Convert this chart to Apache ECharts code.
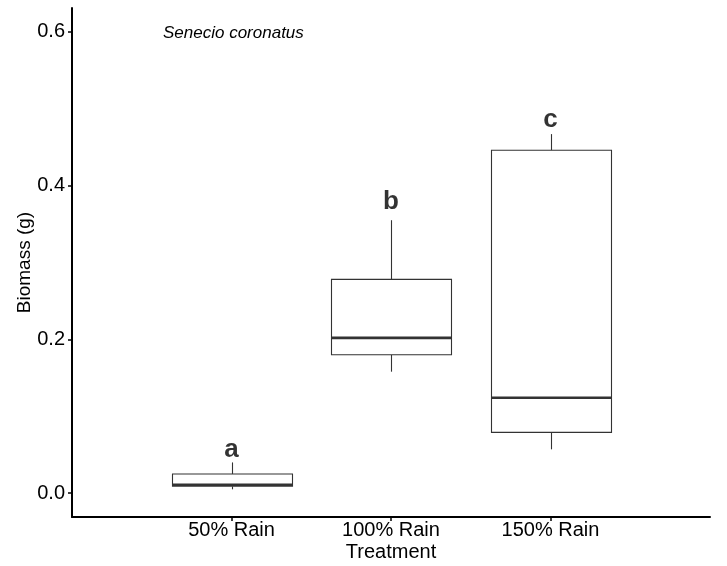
<!DOCTYPE html>
<html>
<head>
<meta charset="utf-8">
<script src="https://cdn.jsdelivr.net/npm/echarts@6/dist/echarts.min.js"></script>
<style>
  html, body { margin: 0; padding: 0; background: #fff; }
  #chart { width: 727px; height: 566px; }
</style>
</head>
<body>
<div id="chart"></div>
<script>
// Treatments, with an empty slot either side to pad the discrete axis
const categories = ['', '50% Rain', '100% Rain', '150% Rain', ''];
const treatments = ['50% Rain', '100% Rain', '150% Rain'];
// Box statistics per treatment
const lowerWhisker = [0.005, 0.158, 0.057];
const q1 = [0.009, 0.180, 0.079];
const median = [0.011, 0.202, 0.124];
const q3 = [0.025, 0.278, 0.446];
const upperWhisker = [0.040, 0.355, 0.467];
// Significance letters and the height they sit at
const letters = ['a', 'b', 'c'];
const letterY = [0.056, 0.379, 0.486];
const yTicks = [0.0, 0.2, 0.4, 0.6];

const FONT = '"Liberation Sans", Arial, sans-serif';
const BOX_W = 120;
const LINE = '#333333';

const boxRows = treatments.map((t, i) => [t, lowerWhisker[i], q1[i], median[i], q3[i], upperWhisker[i]]);
const letterRows = treatments.map((t, i) => [t, letterY[i], letters[i]]);

// Box-and-whisker glyph: whiskers without end caps, thick median bar
function renderBox(params, api) {
  const x = api.value(0);
  const pLo = api.coord([x, api.value(1)]);
  const pQ1 = api.coord([x, api.value(2)]);
  const pMed = api.coord([x, api.value(3)]);
  const pQ3 = api.coord([x, api.value(4)]);
  const pHi = api.coord([x, api.value(5)]);
  const cx = Math.round(pMed[0]) + 0.5;
  const half = BOX_W / 2;
  const thin = { stroke: LINE, lineWidth: 1.1, fill: null };
  return {
    type: 'group',
    children: [
      { type: 'line', shape: { x1: cx, y1: pHi[1], x2: cx, y2: pQ3[1] }, style: thin },
      { type: 'line', shape: { x1: cx, y1: pQ1[1], x2: cx, y2: pLo[1] }, style: thin },
      { type: 'rect', shape: { x: cx - half, y: pQ3[1], width: BOX_W, height: pQ1[1] - pQ3[1] },
        style: { stroke: LINE, lineWidth: 1.1, fill: '#ffffff' } },
      { type: 'line', shape: { x1: cx - half, y1: pMed[1], x2: cx + half, y2: pMed[1] },
        style: { stroke: LINE, lineWidth: 2.6 } }
    ]
  };
}

const chart = echarts.init(document.getElementById('chart'), null, { renderer: 'canvas' });
chart.setOption({
  animation: false,
  backgroundColor: '#ffffff',
  title: {
    text: 'Senecio coronatus',
    left: 158, top: 20,
    textStyle: { fontFamily: FONT, fontSize: 17, fontStyle: 'italic', fontWeight: 'normal', color: '#000' }
  },
  grid: { left: 72, right: 17, top: 8, bottom: 49, containLabel: false, outerBoundsMode: 'none' },
  xAxis: {
    type: 'category',
    data: categories,
    boundaryGap: false,
    name: 'Treatment',
    nameLocation: 'middle',
    nameGap: 25,
    nameMoveOverlap: false,
    nameTextStyle: { fontFamily: FONT, fontSize: 20, color: '#000' },
    axisLine: { onZero: false, lineStyle: { color: '#000', width: 2 } },
    axisTick: { length: 4, lineStyle: { color: '#000', width: 1.5 },
      interval: (i, v) => v !== '' },
    axisLabel: { fontFamily: FONT, fontSize: 20, color: '#000', margin: 3,
      interval: (i, v) => v !== '' },
    splitLine: { show: false }
  },
  yAxis: {
    type: 'value',
    min: -0.031, max: 0.631,
    name: 'Biomass (g)',
    nameLocation: 'middle',
    nameRotate: 90,
    nameGap: 38,
    nameMoveOverlap: false,
    nameTextStyle: { fontFamily: FONT, fontSize: 19, color: '#000' },
    axisLine: { show: true, lineStyle: { color: '#000', width: 2 } },
    axisTick: { show: true, length: 4, customValues: yTicks, lineStyle: { color: '#000', width: 1.5 } },
    axisLabel: { fontFamily: FONT, fontSize: 20, color: '#000', margin: 7,
      customValues: yTicks, formatter: v => v.toFixed(1) },
    splitLine: { show: false }
  },
  series: [
    { type: 'custom', data: boxRows, encode: { x: 0, y: [1, 2, 3, 4, 5] }, renderItem: renderBox, z: 2 },
    {
      type: 'scatter', data: letterRows, encode: { x: 0, y: 1 }, symbolSize: 0,
      label: { show: true, position: 'inside', formatter: p => p.value[2],
        fontFamily: FONT, fontSize: 26, fontWeight: 'bold', color: '#000' },
      z: 4
    }
  ]
});
</script>
</body>
</html>
